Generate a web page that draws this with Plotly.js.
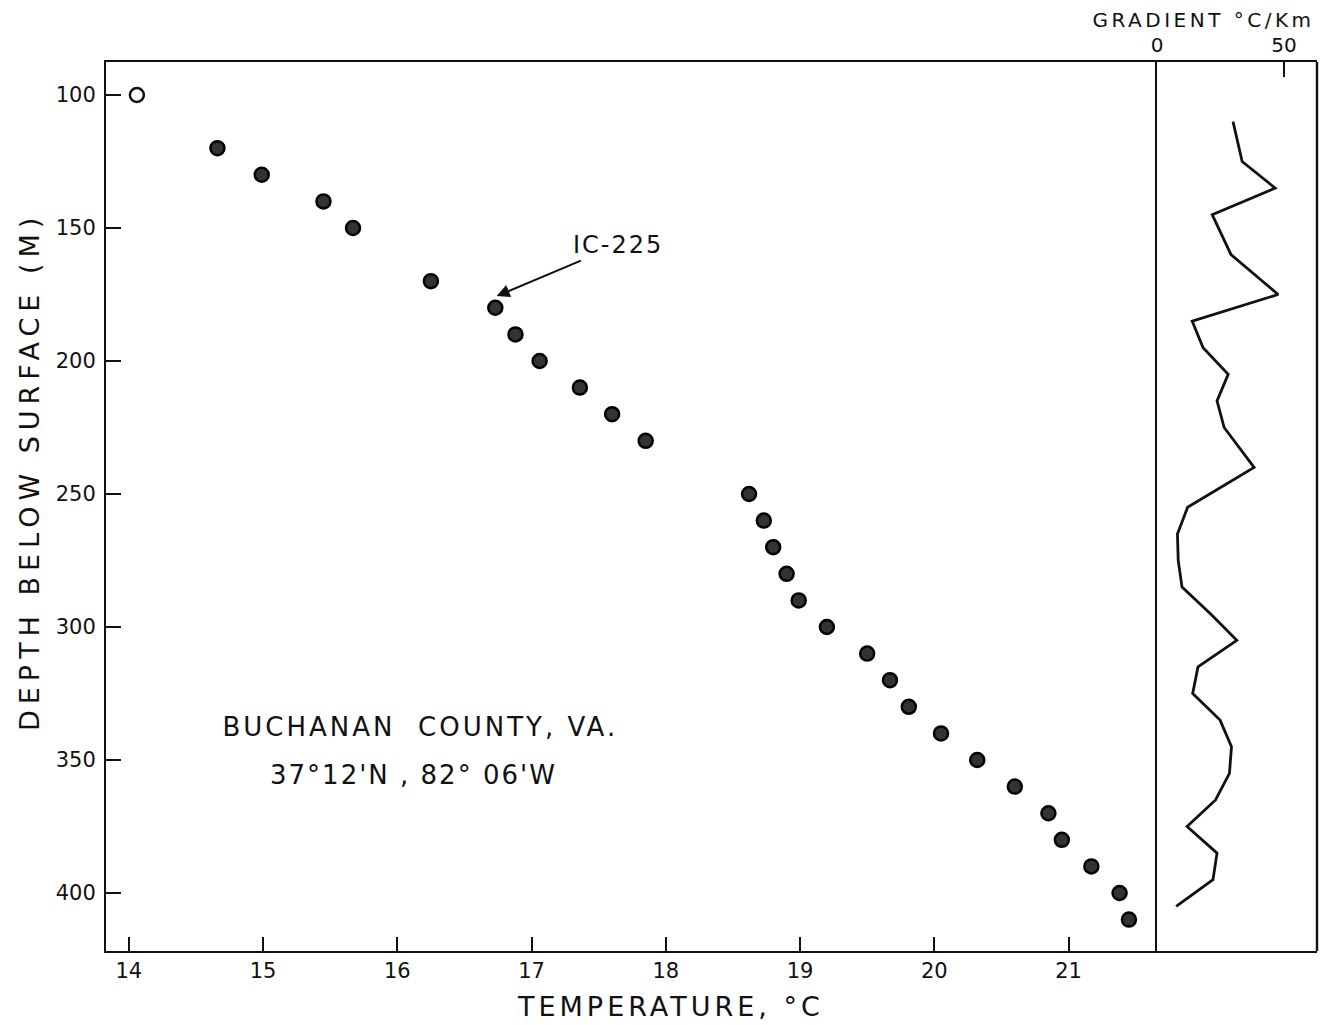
<!DOCTYPE html>
<html>
<head>
<meta charset="utf-8">
<script src="https://cdn.plot.ly/plotly-3.0.1.min.js"></script>
<style>
  html, body { margin: 0; padding: 0; background: #fff; }
  #chart { width: 1323px; height: 1025px; }
</style>
</head>
<body>
<div id="chart"></div>
<script>
// ---- data ----
const depth = [100, 120, 130, 140, 150, 170, 180, 190, 200, 210, 220, 230, 250, 260, 270, 280, 290, 300, 310, 320, 330, 340, 350, 360, 370, 380, 390, 400, 410];
const temperature = [14.06, 14.66, 14.99, 15.45, 15.67, 16.25, 16.73, 16.88, 17.06, 17.36, 17.60, 17.85, 18.62, 18.73, 18.80, 18.90, 18.99, 19.20, 19.50, 19.67, 19.81, 20.05, 20.32, 20.60, 20.85, 20.95, 21.17, 21.38, 21.45];

const gradDepth = [110, 125, 135, 145, 160, 175, 185, 195, 205, 215, 225, 240, 255, 265, 275, 285, 295, 305, 315, 325, 335, 345, 355, 365, 375, 385, 395, 405];
const gradient = [29.9, 33.5, 46.5, 21.7, 29.1, 47.7, 13.8, 18.1, 28.0, 23.6, 26.4, 38.2, 12.0, 8.0, 8.3, 9.8, 21.0, 31.4, 16.1, 14.0, 24.8, 29.3, 28.5, 23.0, 11.8, 23.6, 22.0, 7.5];

const depthTicks = [100, 150, 200, 250, 300, 350, 400];
const tempTicks = [14, 15, 16, 17, 18, 19, 20, 21];
const gradTicks = [0, 50];

const FONT = 'DejaVu Sans, Liberation Sans, sans-serif';
const INK = '#111';

const symbols = depth.map((d, i) => i === 0 ? 'circle-open' : 'circle');
const fills = depth.map((d, i) => i === 0 ? '#111' : '#333');

const traces = [
  {
    x: temperature, y: depth, xaxis: 'x', yaxis: 'y',
    type: 'scatter', mode: 'markers', name: 'Temperature',
    marker: { symbol: symbols, size: 14, color: fills, line: { color: '#000', width: 2.5 } },
    hoverinfo: 'x+y'
  },
  {
    x: gradient, y: gradDepth, xaxis: 'x2', yaxis: 'y2',
    type: 'scatter', mode: 'lines', name: 'Gradient',
    line: { color: INK, width: 2.8 },
    hoverinfo: 'x+y'
  }
];

const axisCommon = {
  showgrid: false, zeroline: false, showline: true, linecolor: INK, linewidth: 2,
  ticks: 'inside', ticklen: 15, tickwidth: 2, tickcolor: INK,
  tickfont: { family: FONT, size: 21, color: INK }
};

const layout = {
  width: 1323, height: 1025,
  margin: { l: 106, r: 6, t: 62, b: 74 },
  paper_bgcolor: '#fff', plot_bgcolor: '#fff',
  showlegend: false,
  font: { family: FONT, color: INK },
  xaxis: Object.assign({}, axisCommon, {
    domain: [0, 0.868], range: [13.83, 21.66], autorange: false,
    tickmode: 'array', tickvals: tempTicks, ticktext: tempTicks.map(String),
    mirror: true, anchor: 'y', ticklen: 14
  }),
  xaxis2: Object.assign({}, axisCommon, {
    domain: [0.868, 1], range: [0, 63], autorange: false,
    side: 'top', anchor: 'y2', mirror: true,
    tickmode: 'array', tickvals: gradTicks, ticktext: gradTicks.map(String),
    tickwidth: 1.5,
    tickfont: { family: FONT, size: 20, color: INK }
  }),
  yaxis: Object.assign({}, axisCommon, {
    range: [421.8, 87.6], autorange: false, anchor: 'x', mirror: false,
    tickmode: 'array', tickvals: depthTicks, ticktext: depthTicks.map(String),
    ticklabelstandoff: 4
  }),
  yaxis2: Object.assign({}, axisCommon, {
    range: [421.8, 87.6], autorange: false, anchor: 'x2', matches: 'y',
    linewidth: 2, mirror: false, ticks: '', showticklabels: false
  }),
  shapes: [
    { type: 'line', xref: 'x2 domain', yref: 'paper', x0: 1, x1: 1, y0: 0, y1: 1,
      line: { color: INK, width: 2.4 } }
  ],
  annotations: [
    { xref: 'paper', yref: 'paper', x: (670 - 106) / 1211, y: -(1007 - 951) / 889,
      xanchor: 'center', yanchor: 'middle', showarrow: false,
      text: 'TEMPERATURE, °C', font: { family: FONT, size: 27, color: INK } },
    { xref: 'paper', yref: 'paper', x: -(106 - 29) / 1211, y: (951 - 472) / 889,
      xanchor: 'center', yanchor: 'middle', showarrow: false, textangle: -90,
      text: 'DEPTH BELOW SURFACE (M)', font: { family: FONT, size: 27, color: INK } },
    { xref: 'paper', yref: 'paper', x: (1203 - 106) / 1211, y: (951 - 20) / 889,
      xanchor: 'center', yanchor: 'middle', showarrow: false,
      text: 'GRADIENT °C/Km', font: { family: FONT, size: 20, color: INK } },
    { xref: 'paper', yref: 'paper', x: (420 - 106) / 1211, y: (951 - 727) / 889,
      xanchor: 'center', yanchor: 'middle', showarrow: false,
      text: 'BUCHANAN\u00A0 COUNTY, VA.', font: { family: FONT, size: 26, color: INK } },
    { xref: 'paper', yref: 'paper', x: (413 - 106) / 1211, y: (951 - 775) / 889,
      xanchor: 'center', yanchor: 'middle', showarrow: false,
      text: "37°12'N , 82° 06'W", font: { family: FONT, size: 26, color: INK } },
    { xref: 'x', yref: 'y', x: 16.74, y: 175.6, ax: 121, ay: -51,
      showarrow: true, arrowhead: 2, arrowsize: 1.3, arrowwidth: 2, arrowcolor: INK,
      text: 'IC-225', font: { family: FONT, size: 24, color: INK } }
  ]
};

Plotly.newPlot('chart', traces, layout, { staticPlot: true, displayModeBar: false }).then(() => {
  const spacing = ['4px', '6px', '3.5px', '3px', '2px', '2px'];
  document.querySelectorAll('.annotation-text').forEach((el, i) => {
    if (spacing[i]) el.style.letterSpacing = spacing[i];
  });
});
</script>
</body>
</html>
